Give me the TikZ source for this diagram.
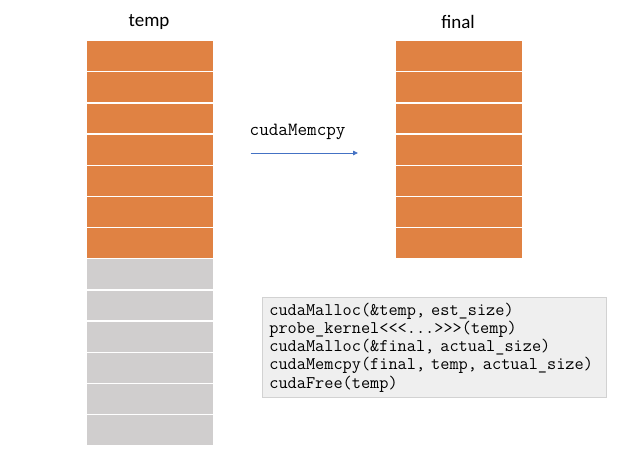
\documentclass[tikz,border=0pt]{standalone}
\usepackage{fontspec}
\setmainfont{Carlito}
\usetikzlibrary{arrows.meta}
\definecolor{cellorange}{HTML}{E08243}
\definecolor{cellgray}{HTML}{D0CECE}
\definecolor{arrowblue}{HTML}{4472C4}
\definecolor{codefill}{HTML}{EFEFEF}
\definecolor{codeborder}{HTML}{D2D2D2}
\tikzset{
  cell/.style={draw=white, line width=1.3pt, minimum width=127pt, minimum height=31.15pt, inner sep=0pt, anchor=north west},
  orangecell/.style={cell, fill=cellorange},
  graycell/.style={cell, fill=cellgray},
  title/.style={font=\fontsize{19}{22}\selectfont, inner sep=0pt},
}
\begin{document}
\begin{tikzpicture}[x=1pt,y=-1pt]
\useasboundingbox (0,0) rectangle (625,467);
% temp column
\foreach \i in {0,...,6}{
  \node[orangecell] (t\i) at (86,{40+31.15*\i}) {};
}
\foreach \i in {7,...,12}{
  \node[graycell] (t\i) at (86,{40+31.15*\i}) {};
}
% final column
\foreach \i in {0,...,6}{
  \node[orangecell] (f\i) at (395,{40+31.15*\i}) {};
}
\node[title] (temptitle) at (149,22) {temp};
\node[title] (finaltitle) at (458,22) {final};
% arrow
\coordinate (a1) at (250.5,153);
\coordinate (a2) at (358,153);
\draw[arrowblue, line width=0.8pt, -{Triangle[length=5pt,width=4.5pt]}] (a1) -- (a2);
\node[font=\ttfamily\fontsize{18.6}{22}\selectfont, anchor=west, inner sep=0pt] (memcpy) at (249.5,132) {cudaMemcpy};
% code box
\node[draw=codeborder, fill=codefill, line width=0.8pt, anchor=north west,
      minimum width=344pt, minimum height=100pt, text width=330pt,
      inner xsep=7pt, inner ysep=4pt, align=left,
      font=\ttfamily\fontsize{17.8}{18.3}\selectfont] (code) at (262,297)
{cudaMalloc(\&temp, est\_size)\\
probe\_kernel<{}<{}<...>{}>{}>(temp)\\
cudaMalloc(\&final, actual\_size)\\
cudaMemcpy(final, temp, actual\_size)\\
cudaFree(temp)};
\end{tikzpicture}
\end{document}
